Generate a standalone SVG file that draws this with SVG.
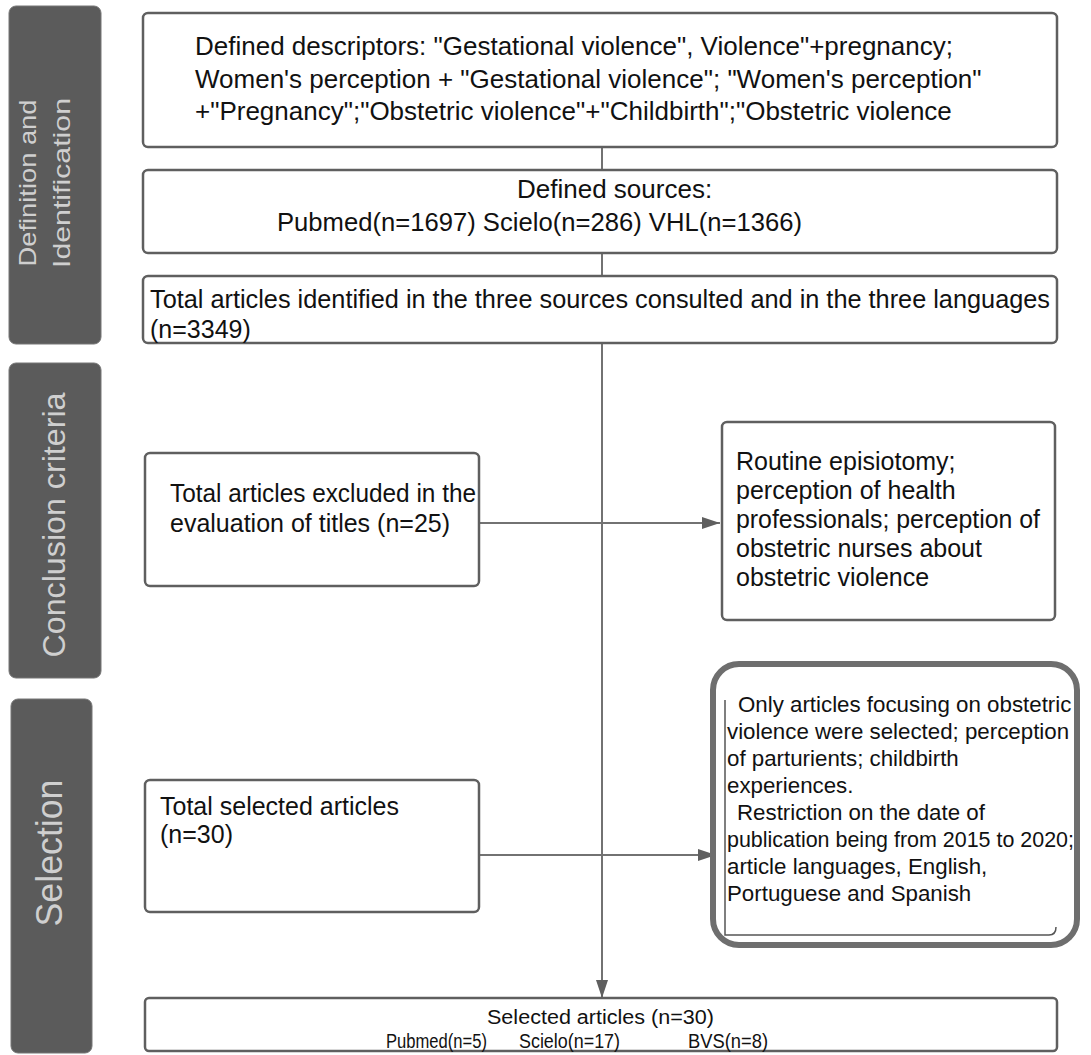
<svg xmlns="http://www.w3.org/2000/svg" width="1091" height="1055" viewBox="0 0 1091 1055">
<style>
.bar{fill:#5b5b5b;stroke:#777;stroke-width:1}
.bt{font-family:"Liberation Sans",Arial,sans-serif;fill:#cfcfcf;text-anchor:middle}
.box{fill:#fff;stroke:#5f5f5f;stroke-width:2.5}
.t{font-family:"Liberation Sans",Arial,sans-serif;font-size:25px;fill:#111}
.tb{font-family:"Liberation Sans",Arial,sans-serif;font-size:26px;fill:#111}
.ts{font-family:"Liberation Sans",Arial,sans-serif;font-size:22.3px;fill:#111}
.tc{font-family:"Liberation Sans",Arial,sans-serif;font-size:20px;fill:#111}
.c{stroke:#727272;stroke-width:2;fill:none}
</style>
<defs>
<marker id="ahl" markerWidth="18" markerHeight="12" refX="18" refY="6" orient="auto" markerUnits="userSpaceOnUse" viewBox="0 0 18 12">
<path d="M0,0 L18,6 L0,12 z" fill="#5f5f5f"/>
</marker>
</defs>

<g id="bar-definition">
<rect class="bar" x="9" y="6" width="92" height="338" rx="7"/>
<text class="bt" font-size="24" transform="translate(36,183) rotate(-90)" textLength="167" lengthAdjust="spacingAndGlyphs">Definition and</text>
<text class="bt" font-size="24" transform="translate(70,183) rotate(-90)" textLength="170" lengthAdjust="spacingAndGlyphs">Identification</text>
</g>
<g id="bar-conclusion">
<rect class="bar" x="9" y="363" width="92" height="315" rx="7"/>
<text class="bt" font-size="32" transform="translate(65,525) rotate(-90)" textLength="265" lengthAdjust="spacingAndGlyphs">Conclusion criteria</text>
</g>
<g id="bar-selection">
<rect class="bar" x="11" y="699" width="81" height="354" rx="7"/>
<text class="bt" font-size="36" transform="translate(62,853) rotate(-90)" textLength="147" lengthAdjust="spacingAndGlyphs">Selection</text>
</g>

<g id="connectors">
<line class="c" x1="602" y1="147" x2="602" y2="170"/>
<line class="c" x1="602" y1="253" x2="602" y2="276"/>
<line class="c" x1="602" y1="343" x2="602" y2="998" marker-end="url(#ahl)"/>
<line class="c" x1="479" y1="523" x2="720" y2="523" marker-end="url(#ahl)"/>
<line class="c" x1="479" y1="855" x2="716" y2="855" marker-end="url(#ahl)"/>
</g>

<g id="box-descriptors">
<rect class="box" x="143" y="13" width="914" height="134" rx="5"/>
<text class="tb" x="195" y="55" textLength="758" lengthAdjust="spacingAndGlyphs">Defined descriptors: "Gestational violence", Violence"+pregnancy;</text>
<text class="tb" x="195" y="88">Women's perception + "Gestational violence"; "Women's perception"</text>
<text class="tb" x="195" y="120">+"Pregnancy";"Obstetric violence"+"Childbirth";"Obstetric violence</text>
</g>

<g id="box-sources">
<rect class="box" x="143" y="170" width="914" height="83" rx="5"/>
<text class="tb" x="517" y="198">Defined sources:</text>
<text class="tb" x="277" y="231" textLength="525" lengthAdjust="spacingAndGlyphs">Pubmed(n=1697) Scielo(n=286) VHL(n=1366)</text>
</g>

<g id="box-total">
<rect class="box" x="143" y="276" width="914" height="67" rx="5"/>
<text class="t" x="150" y="308" textLength="900" lengthAdjust="spacingAndGlyphs">Total articles identified in the three sources consulted and in the three languages</text>
<text class="t" x="150" y="338">(n=3349)</text>
</g>

<g id="box-excluded">
<rect class="box" x="145" y="453" width="334" height="133" rx="5"/>
<text class="t" x="170" y="502" textLength="306" lengthAdjust="spacingAndGlyphs">Total articles excluded in the</text>
<text class="t" x="170" y="532">evaluation of titles (n=25)</text>
</g>

<g id="box-exclusion-reasons">
<rect class="box" x="722" y="422" width="333" height="198" rx="5"/>
<text class="t" x="736" y="470">Routine episiotomy;</text>
<text class="t" x="736" y="499">perception of health</text>
<text class="t" x="736" y="528" textLength="304" lengthAdjust="spacingAndGlyphs">professionals; perception of</text>
<text class="t" x="736" y="557">obstetric nurses about</text>
<text class="t" x="736" y="586">obstetric violence</text>
</g>

<g id="box-selected">
<rect class="box" x="145" y="780" width="334" height="132" rx="5"/>
<text class="t" x="160" y="815">Total selected articles</text>
<text class="t" x="160" y="843">(n=30)</text>
</g>

<g id="box-criteria">
<rect x="713" y="664" width="364" height="281" rx="26" fill="#fff" stroke="#6e6e6e" stroke-width="6"/>
<path d="M725,700 L725,935 L1049,935 Q1056,935 1056,927" fill="none" stroke="#555" stroke-width="1.5"/>
<text class="ts" x="738" y="712">Only articles focusing on obstetric</text>
<text class="ts" x="727" y="739">violence were selected; perception</text>
<text class="ts" x="727" y="766">of parturients; childbirth</text>
<text class="ts" x="727" y="793">experiences.</text>
<text class="ts" x="737" y="820">Restriction on the date of</text>
<text class="ts" x="727" y="847" textLength="347" lengthAdjust="spacingAndGlyphs">publication being from 2015 to 2020;</text>
<text class="ts" x="727" y="874">article languages, English,</text>
<text class="ts" x="727" y="901">Portuguese and Spanish</text>
</g>

<g id="box-final">
<rect class="box" x="145" y="998" width="912" height="53" rx="4"/>
<text class="tc" x="487" y="1024" textLength="227" lengthAdjust="spacingAndGlyphs">Selected articles (n=30)</text>
<text class="tc" x="386" y="1048" textLength="101" lengthAdjust="spacingAndGlyphs">Pubmed(n=5)</text>
<text class="tc" x="519" y="1048" textLength="101" lengthAdjust="spacingAndGlyphs">Scielo(n=17)</text>
<text class="tc" x="688" y="1048" textLength="80" lengthAdjust="spacingAndGlyphs">BVS(n=8)</text>
</g>
</svg>
